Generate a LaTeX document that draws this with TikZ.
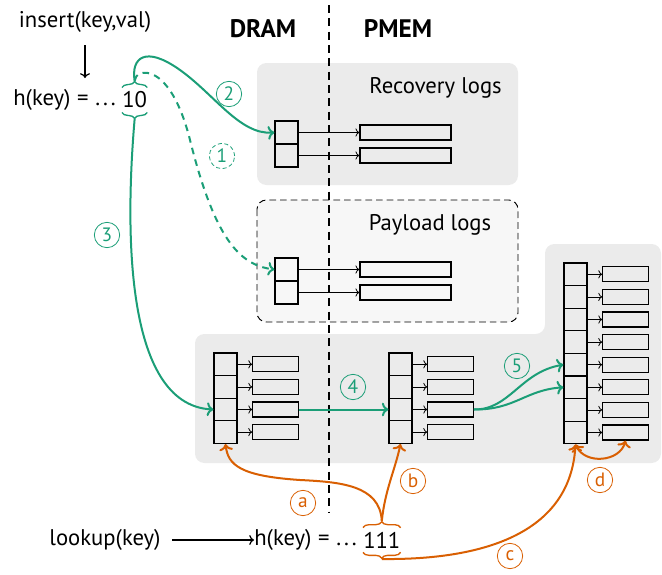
\documentclass[tikz,border=0pt]{standalone}
\usepackage{fontspec}
\setmainfont{PT Sans}
\usetikzlibrary{decorations.pathreplacing,arrows.meta}
\definecolor{dgreen}{HTML}{1B9E77}
\definecolor{dorange}{HTML}{D95F02}
\definecolor{boxgrey}{HTML}{EBEBEB}
\definecolor{lightgrey}{HTML}{F7F7F7}
\newcommand{\hashof}{h(key)\hspace{5pt}=\hspace{5pt}.\hspace{2.2pt}.\hspace{2.2pt}.}
\begin{document}
\begin{tikzpicture}[x=0.75pt,y=-0.75pt,
  txt/.style={inner sep=0pt,font=\fontsize{17}{19}\selectfont},
  hdr/.style={inner sep=0pt,font=\fontsize{19}{21}\selectfont\bfseries},
  cell/.style={draw,line width=0.9pt,minimum width=17.25pt,minimum height=17pt,inner sep=0pt,fill=none},
  bigcell/.style={cell,minimum height=17.25pt},
  longlog/.style={draw,line width=0.9pt,minimum width=68.25pt,minimum height=11.25pt,inner sep=0pt},
  shortlog/.style={draw,line width=0.9pt,minimum width=34pt,minimum height=11.25pt,inner sep=0pt},
  ptr/.style={->,line width=0.6pt},
  garrow/.style={->,draw=dgreen,line width=1.5pt},
  oarrow/.style={->,draw=dorange,line width=1.5pt},
  gbrace/.style={draw=dgreen,line width=1pt,decorate,decoration={brace,amplitude=4.5pt}},
  obrace/.style={draw=dorange,line width=1pt,decorate,decoration={brace,amplitude=4.5pt}},
  gstep/.style={circle,draw=dgreen,text=dgreen,line width=0.6pt,minimum size=19pt,inner sep=0pt,font=\fontsize{14.5}{15}\selectfont},
  ostep/.style={circle,draw=dorange,text=dorange,line width=0.6pt,minimum size=19pt,inner sep=0pt,font=\fontsize{14.5}{15}\selectfont},
]
\useasboundingbox (0,0) rectangle (662,575);

% memory regions
\fill[boxgrey,rounded corners=7pt] (257,63) rectangle (518,185);
\draw[line width=0.7pt,fill=lightgrey,rounded corners=7pt,dash pattern=on 5pt off 3pt] (257,200) rectangle (518,322);
\fill[boxgrey,rounded corners=7pt] (195,334) -- (545,334) -- (545,244) -- (661,244) -- (661,463) -- (195,463) -- cycle;

% DRAM / PMEM divider
\draw[line width=2.2pt,dash pattern=on 6pt off 4pt] (329,5) -- (329,512);
\node[hdr] (dram) at (263,29) {DRAM};
\node[hdr] (pmem) at (398,29) {PMEM};

\node[txt,anchor=east] (reclbl) at (502,88) {Recovery logs};
\node[txt] (paylbl) at (430,225) {Payload logs};

% recovery log table
\foreach \i/\y in {1/132.5,2/155.5}{
  \node[bigcell] (rc\i) at (286.5,\y) {};
  \node[longlog] (rl\i) at (405.5,\y) {};
  \draw[ptr] (rc\i.east) -- (rl\i.west);
}
% payload log table
\foreach \i/\y in {1/269.5,2/292.5}{
  \node[bigcell] (pc\i) at (286.5,\y) {};
  \node[longlog] (pl\i) at (405.5,\y) {};
  \draw[ptr] (pc\i.east) -- (pl\i.west);
}
% hash tables
\foreach \i in {1,...,4}{
  \pgfmathsetmacro{\yy}{364.3+22.6*(\i-1)}
  \node[cell] (a\i) at (225.5,\yy) {};
  \node[shortlog] (al\i) at (275.5,\yy) {};
  \draw[ptr] (a\i.east) -- (al\i.west);
  \node[cell] (b\i) at (400.5,\yy) {};
  \node[shortlog] (bl\i) at (450.5,\yy) {};
  \draw[ptr] (b\i.east) -- (bl\i.west);
}
\foreach \i in {1,...,8}{
  \pgfmathsetmacro{\yy}{274.3+22.6*(\i-1)}
  \node[cell] (c\i) at (575.5,\yy) {};
  \node[shortlog] (cl\i) at (625.5,\yy) {};
  \draw[ptr] (c\i.east) -- (cl\i.west);
}

% insert path
\node[txt] (ins) at (85,22) {insert(key,val)};
\node[txt,anchor=east] (hins) at (116,100) {\hashof};
\node[txt,anchor=west] (ten) at (122,100) {10};
\draw[->,line width=0.9pt] (85,45) -- (85,78);
\draw[gbrace] ([yshift=3pt]ten.north west) -- coordinate[pos=0.5,yshift=5pt] (tentop) ([yshift=3pt]ten.north east);
\draw[gbrace] ([yshift=-3pt]ten.south east) -- coordinate[pos=0.5,yshift=-5pt] (tenbot) ([yshift=-3pt]ten.south west);

\draw[garrow,dash pattern=on 5pt off 4pt] (tentop) .. controls (135,68) and (170,60) .. (190,140) .. controls (215,240) and (240,265) .. (pc1.west);
\draw[garrow] (tentop) .. controls (131,58) and (145,45) .. (180,70) .. controls (215,95) and (240,135) .. (rc1.west);
\draw[garrow] (tenbot) .. controls (126,220) and (122,405) .. (a3.west);
\draw[garrow] (al3.east) -- (b3.west);
\draw[garrow] (bl3.east) .. controls (510,410) and (520,372) .. (c5.west);
\draw[garrow] (bl3.east) .. controls (515,410) and (525,390) .. (c6.west);

\node[gstep,dash pattern=on 3pt off 2pt] (s1) at (222,156) {1};
\node[gstep] (s2) at (229,94) {2};
\node[gstep] (s3) at (107,235) {3};
\node[gstep] (s4) at (353,387) {4};
\node[gstep] (s5) at (517,366) {5};

% lookup path
\node[txt] (look) at (105,540) {lookup(key)};
\node[txt,anchor=east] (hlook) at (357,540) {\hashof};
\node[txt,anchor=west] (one) at (363,540) {111};
\draw[->,line width=0.9pt] (172,540) -- (hlook.west);
\draw[obrace] ([yshift=3pt]one.north west) -- coordinate[pos=0.5,yshift=5pt] (onetop) ([yshift=3pt]one.north east);
\draw[obrace] ([yshift=-3pt]one.south east) -- coordinate[pos=0.5,yshift=-5pt] (onebot) ([yshift=-3pt]one.south west);

\draw[oarrow] (onetop) .. controls (380,485) and (340,482) .. (300,480) .. controls (240,476) and (228,465) .. (a4.south);
\draw[oarrow] (onetop) .. controls (385,490) and (395,470) .. (b4.south);
\draw[oarrow] (onebot) .. controls (470,560) and (570,540) .. (c8.south);
\draw[oarrow,<->] (c8.south) .. controls (585,465) and (620,462) .. (cl8.south);

\node[ostep] (sa) at (303,503) {a};
\node[ostep] (sb) at (413,481) {b};
\node[ostep] (sc) at (510,556) {c};
\node[ostep] (sd) at (600,480) {d};
\end{tikzpicture}
\end{document}
